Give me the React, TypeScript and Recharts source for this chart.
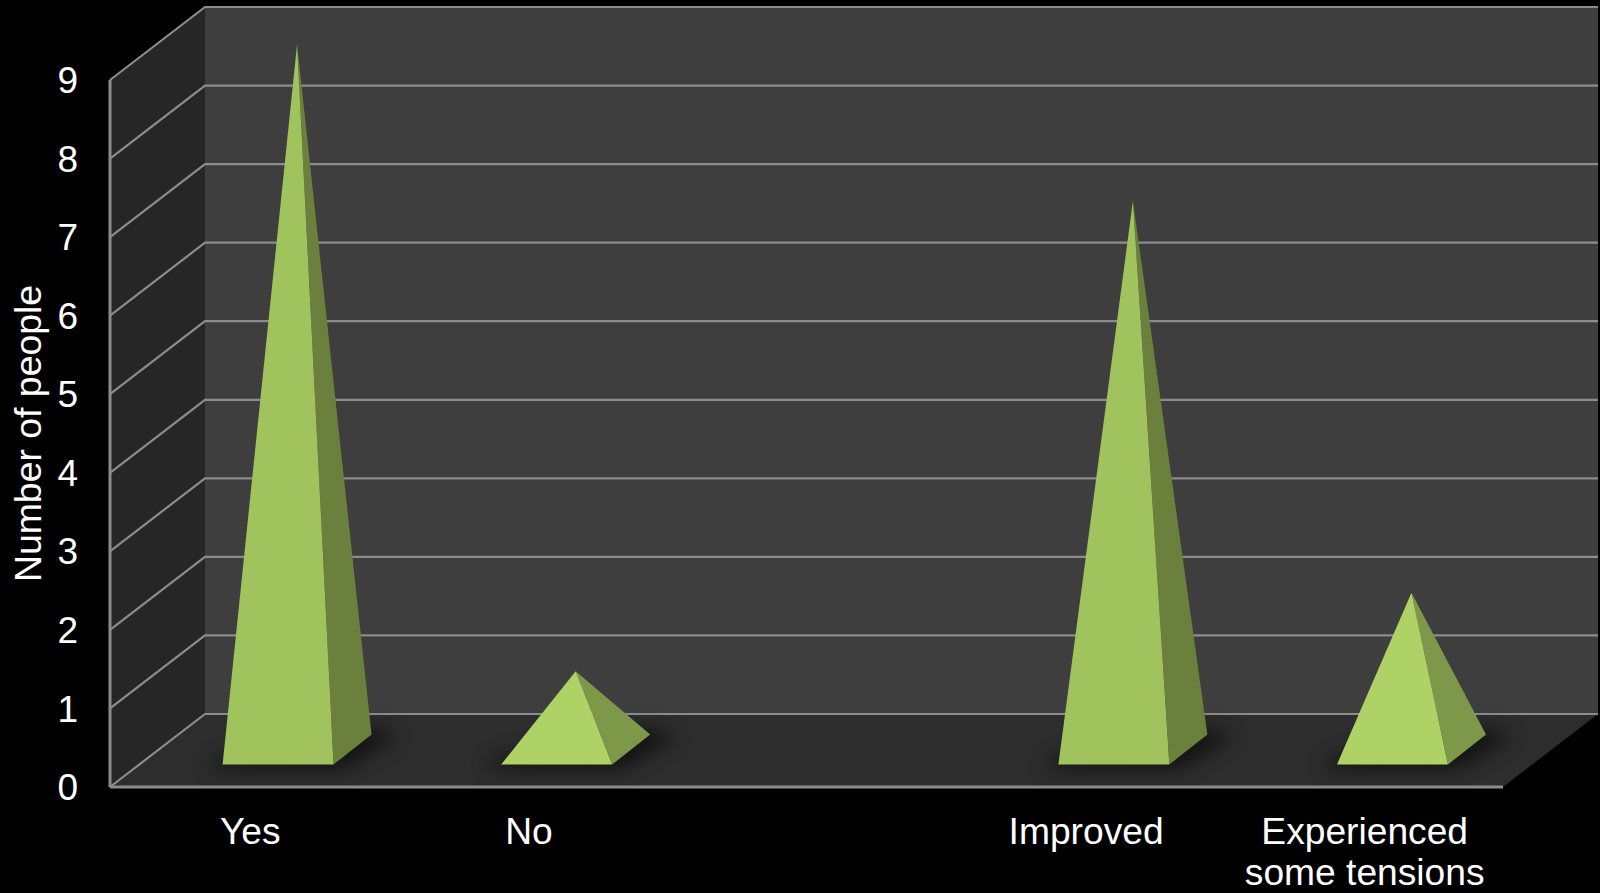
import React from "react";
import { BarChart, Bar, XAxis, YAxis, CartesianGrid, ReferenceArea } from "recharts";

const categories = ["Yes", "No", "", "Improved", "Experienced\nsome tensions"];
const people = [9, 1, null, 7, 2];
const yTicks = [0, 1, 2, 3, 4, 5, 6, 7, 8, 9];

const rows = categories.map((name, i) => ({ name, people: people[i] }));

// Perspective of the box the pyramids stand in.
const DEPTH_X = 95;
const DEPTH_Y = 73;
const LINE = "#8c8c8c";
const FONT = "'Liberation Sans', Arial, sans-serif";

// Side wall, back wall and floor, built from the plot rectangle.
const Room = ({ x, y, width, height }: any) => {
  const bottom = y + height;
  const right = x + width;
  return (
    <g>
      <polygon
        points={`${x + DEPTH_X},${y - DEPTH_Y} ${right + DEPTH_X},${y - DEPTH_Y} ${right + DEPTH_X},${bottom - DEPTH_Y} ${x + DEPTH_X},${bottom - DEPTH_Y}`}
        fill="#3e3e3e"
      />
      <polygon
        points={`${x},${y} ${x + DEPTH_X},${y - DEPTH_Y} ${x + DEPTH_X},${bottom - DEPTH_Y} ${x},${bottom}`}
        fill="#262626"
      />
      <polygon
        points={`${x},${bottom} ${right},${bottom} ${right + DEPTH_X},${bottom - DEPTH_Y} ${x + DEPTH_X},${bottom - DEPTH_Y}`}
        fill="#2d2d2d"
      />
    </g>
  );
};

// One grid level: along the side wall, then across the back wall.
const GridLevel = ({ x1, y1, x2 }: any) => (
  <polyline
    points={`${x1},${y1} ${x1 + DEPTH_X},${y1 - DEPTH_Y} ${x2 + DEPTH_X},${y1 - DEPTH_Y}`}
    fill="none"
    stroke={LINE}
    strokeWidth={2.2}
  />
);

// A pyramid seen from the front-right, with its soft shadow on the floor.
const Pyramid = ({ x, y, width, height, value }: any) => {
  if (value == null) return null;
  const tall = value >= 5;
  const left = x + 29;
  const right = left + width;
  const base = y + height - 22.5;
  const backX = right + 38;
  const backY = base - 30;
  const apexX = (left + backX) / 2;
  const apexY = (base + backY) / 2 - height * 0.9975;
  return (
    <g>
      <polygon
        points={`${left - 16},${base + 4} ${right + 8},${base + 4} ${backX + 26},${backY + 2} ${backX},${backY - 6} ${left},${base - 8}`}
        fill="#000"
        opacity={0.62}
        style={{ filter: "blur(10px)" }}
      />
      <polygon points={`${right},${base} ${backX},${backY} ${apexX},${apexY}`} fill={tall ? "#6a803c" : "#7e9849"} />
      <polygon points={`${left},${base} ${right},${base} ${apexX},${apexY}`} fill={tall ? "#a0c35d" : "#aed266"} />
    </g>
  );
};

const CategoryTick = ({ x, y, payload }: any) => (
  <text x={x + 1} y={y} textAnchor="middle" fill="#fff" fontSize={37.2} fontFamily={FONT}>
    {String(payload.value)
      .split("\n")
      .map((line, i) => (
        <tspan key={i} x={x + 1} y={y + 49 + i * 41}>
          {line}
        </tspan>
      ))}
  </text>
);

export default function App() {
  return (
    <div style={{ position: "fixed", inset: 0, background: "#000", overflow: "hidden" }}>
      <BarChart
        width={1600}
        height={893}
        data={rows}
        margin={{ top: 80, right: 97, bottom: 0, left: 50 }}
        barCategoryGap="30%"
      >
        <ReferenceArea {...({ zIndex: -200 } as any)} shape={<Room />} ifOverflow="visible" />
        <CartesianGrid vertical={false} horizontal={(p: any) => <GridLevel key={p.key} {...p} />} />
        <XAxis
          dataKey="name"
          height={106}
          interval={0}
          tickLine={false}
          axisLine={{ stroke: LINE, strokeWidth: 3 }}
          tick={<CategoryTick />}
        />
        <YAxis
          width={60}
          domain={[0, 9]}
          ticks={yTicks}
          interval={0}
          tickLine={false}
          tickMargin={26}
          axisLine={{ stroke: LINE, strokeWidth: 3 }}
          tick={{ fill: "#fff", fontSize: 37, fontFamily: FONT }}
          label={{
            value: "Number of people",
            angle: -90,
            position: "insideLeft",
            offset: -22,
            fill: "#fff",
            fontSize: 37.4,
            fontFamily: FONT,
            style: { textAnchor: "middle" },
          }}
        />
        <Bar dataKey="people" isAnimationActive={false} shape={<Pyramid />} />
      </BarChart>
    </div>
  );
}
